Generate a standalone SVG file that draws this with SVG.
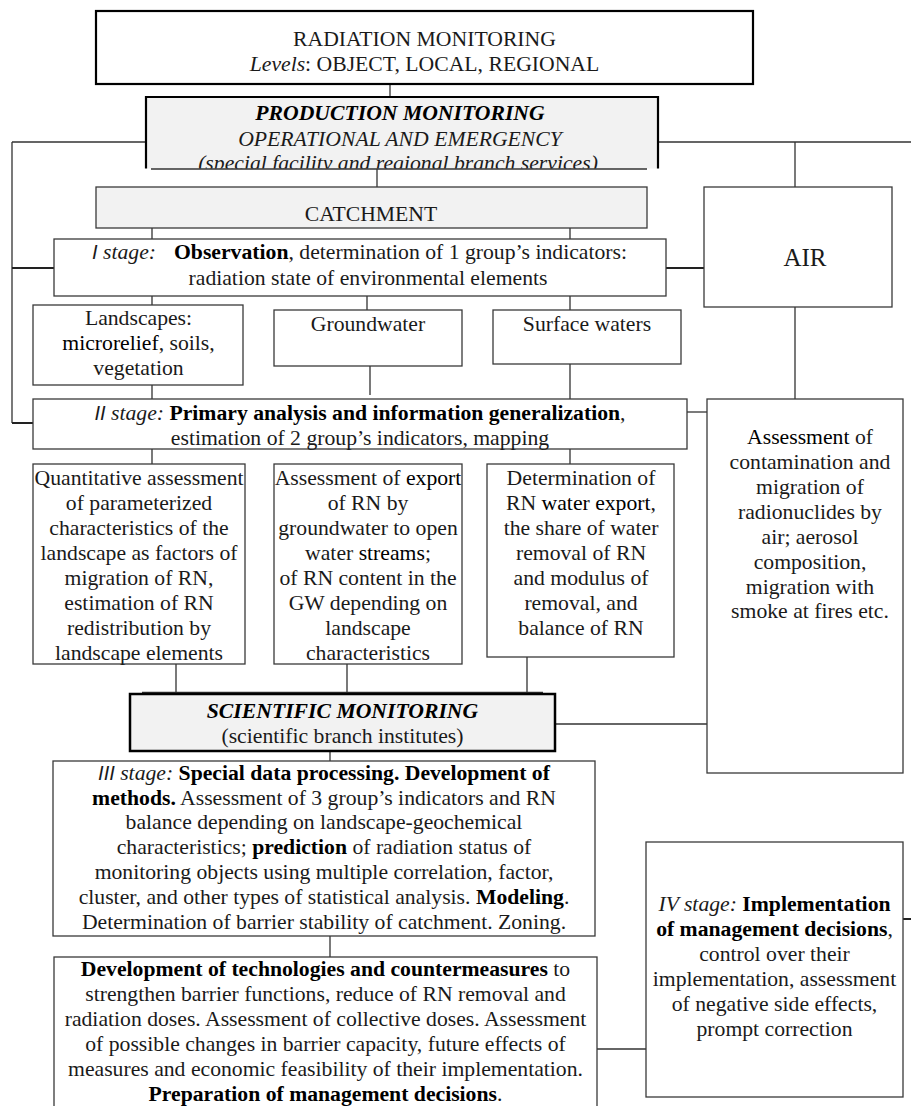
<svg xmlns="http://www.w3.org/2000/svg" width="911" height="1106" viewBox="0 0 911 1106">
<style>
.box{fill:#fff;stroke:#3a3a3a;stroke-width:1.3}
.gbox{fill:#f2f2f2;stroke:#3a3a3a;stroke-width:1.3}
.thick{fill:none;stroke:#000;stroke-width:2.2}
.ln{fill:none;stroke:#333;stroke-width:1.3}
.ln2{fill:none;stroke:#222;stroke-width:2}
.t{font-family:"Liberation Serif","Times New Roman",serif;font-size:21.7px;fill:#1a1a1a;text-anchor:middle}
.s{text-anchor:start}
.b{font-weight:bold;fill:#000}
.i{font-style:italic}
.r{font-family:"Liberation Sans",Arial,sans-serif;font-size:20px}
</style>
<defs>
<clipPath id="prodClip"><rect x="146" y="97" width="512" height="71.5"/></clipPath>
</defs>
<g id="connectors">
<path class="ln" d="M390,84V97"/>
<path class="ln" d="M12,142H146M12,142V423"/>
<path class="ln2" d="M12,268H54M12,423H33"/>
<path class="ln" d="M658,142H911M795,142V187"/>
<path class="ln" d="M377,169V187"/>
<path class="ln" d="M152,228V239M570,228V239"/>
<path class="ln2" d="M666,268H704"/>
<path class="ln" d="M152,296V305M367,296V310M570,296V310"/>
<path class="ln" d="M152,385V399M370,366V395M570,364V399M795,307V399"/>
<path class="ln" d="M687,412H707"/>
<path class="ln" d="M152,449V464M570,449V464"/>
<path class="ln" d="M176,664V693M347,664V693M527,657V693"/>
<path class="ln" d="M142,692.5H543"/>
<path class="ln" d="M555,724H707"/>
<path class="ln" d="M330,751V761"/>
<path class="ln" d="M330,936V957"/>
<path class="ln" d="M597,1049H646"/>
<path class="ln2" d="M903,919H911"/>
</g>
<g id="radiation-monitoring">
<rect x="96" y="11" width="657" height="73" fill="#fff" stroke="#000" stroke-width="2.2"/>
<text class="t" x="424.5" y="46">RADIATION MONITORING</text>
<text class="t" x="424.5" y="71"><tspan class="i">Levels</tspan>: OBJECT, LOCAL, REGIONAL</text>
</g>
<g id="production-monitoring">
<rect x="146" y="97" width="512" height="71.5" fill="#f2f2f2"/>
<path class="thick" d="M146,168.5V97H658V168.5"/>
<path class="ln" d="M151,169H647"/>
<g clip-path="url(#prodClip)">
<text class="t i b" x="400" y="120">PRODUCTION MONITORING</text>
<text class="t i" x="400" y="145.5">OPERATIONAL AND EMERGENCY</text>
<text class="t i" x="398" y="170">(special facility and regional branch services)</text>
</g>
</g>
<g id="catchment">
<rect class="gbox" x="96" y="187" width="551" height="41"/>
<text class="t" x="371" y="221">CATCHMENT</text>
</g>
<g id="stage1">
<rect class="box" x="54" y="239" width="612" height="57"/>
<text class="t s" x="92" y="259"><tspan class="i r">I</tspan><tspan class="i"> stage:</tspan></text>
<text class="t s" x="174" y="259"><tspan class="b">Observation</tspan>, determination of 1 group’s indicators:</text>
<text class="t" x="368" y="285">radiation state of environmental elements</text>
</g>
<g id="air">
<rect class="box" x="704" y="187" width="188" height="120"/>
<text class="t" x="805" y="266" style="font-size:25px">AIR</text>
</g>
<g id="landscapes">
<rect class="box" x="33" y="305" width="210" height="80"/>
<text class="t" x="138.5" y="325">Landscapes:</text>
<text class="t" x="138.5" y="350"><tspan fill="#000">microrelief</tspan>, soils,</text>
<text class="t" x="138.5" y="375">vegetation</text>
</g>
<g id="groundwater">
<rect class="box" x="274" y="310" width="188" height="56"/>
<text class="t" x="368" y="331">Groundwater</text>
</g>
<g id="surface-waters">
<rect class="box" x="493" y="310" width="188" height="54"/>
<text class="t" x="587" y="331">Surface waters</text>
</g>
<g id="stage2">
<rect class="box" x="33" y="399" width="654" height="50"/>
<text class="t" x="360" y="420"><tspan class="i r">II</tspan><tspan class="i"> stage:</tspan> <tspan class="b">Primary analysis and information generalization</tspan>,</text>
<text class="t" x="360" y="445">estimation of 2 group’s indicators, mapping</text>
</g>
<g id="air-assessment">
<rect class="box" x="707" y="399" width="196" height="374"/>
<text class="t" x="810" y="444"><tspan fill="#000">Assessment</tspan> of</text>
<text class="t" x="810" y="469">contamination and</text>
<text class="t" x="810" y="494">migration of</text>
<text class="t" x="810" y="519">radionuclides by</text>
<text class="t" x="810" y="544">air; aerosol</text>
<text class="t" x="810" y="569">composition,</text>
<text class="t" x="810" y="594">migration with</text>
<text class="t" x="810" y="618">smoke at fires etc.</text>
</g>
<g id="quantitative">
<rect class="box" x="33" y="464" width="212" height="200"/>
<text class="t" x="139" y="485">Quantitative assessment</text>
<text class="t" x="139" y="510">of parameterized</text>
<text class="t" x="139" y="535">characteristics of the</text>
<text class="t" x="139" y="560">landscape as factors of</text>
<text class="t" x="139" y="585">migration of RN,</text>
<text class="t" x="139" y="610">estimation of RN</text>
<text class="t" x="139" y="635">redistribution by</text>
<text class="t" x="139" y="660">landscape elements</text>
</g>
<g id="export">
<rect class="box" x="274" y="464" width="188" height="200"/>
<text class="t" x="368" y="485">Assessment of <tspan fill="#000">export</tspan></text>
<text class="t" x="368" y="510">of RN by</text>
<text class="t" x="368" y="535">groundwater to open</text>
<text class="t" x="368" y="560">water <tspan fill="#000">streams</tspan>;</text>
<text class="t" x="368" y="585">of RN content in the</text>
<text class="t" x="368" y="610">GW depending on</text>
<text class="t" x="368" y="635">landscape</text>
<text class="t" x="368" y="660">characteristics</text>
</g>
<g id="determination">
<rect class="box" x="487" y="464" width="187" height="193"/>
<text class="t" x="581" y="485">Determination of</text>
<text class="t" x="581" y="510">RN <tspan fill="#000">water export</tspan>,</text>
<text class="t" x="581" y="535">the share of water</text>
<text class="t" x="581" y="560">removal of RN</text>
<text class="t" x="581" y="585">and modulus of</text>
<text class="t" x="581" y="610">removal, and</text>
<text class="t" x="581" y="635">balance of RN</text>
</g>
<g id="scientific-monitoring">
<rect x="130" y="694" width="425" height="57" fill="#f2f2f2" stroke="#000" stroke-width="2.5"/>
<text class="t i b" x="342.5" y="717.5">SCIENTIFIC MONITORING</text>
<text class="t" x="342.5" y="743">(scientific branch institutes)</text>
</g>
<g id="stage3">
<rect class="box" x="53" y="761" width="542" height="175"/>
<text class="t" x="324" y="780"><tspan class="i r">III</tspan><tspan class="i"> stage:</tspan> <tspan class="b">Special data processing. Development of</tspan></text>
<text class="t" x="324" y="804.5"><tspan class="b">methods.</tspan> Assessment of 3 group’s indicators and RN</text>
<text class="t" x="324" y="829">balance depending on landscape-geochemical</text>
<text class="t" x="324" y="854">characteristics; <tspan class="b">prediction</tspan> of radiation status of</text>
<text class="t" x="324" y="879">monitoring objects using multiple correlation, factor,</text>
<text class="t" x="324" y="904">cluster, and other types of statistical analysis. <tspan class="b">Modeling</tspan>.</text>
<text class="t" x="324" y="929">Determination of barrier stability of catchment. Zoning.</text>
</g>
<g id="development">
<rect class="box" x="54" y="957" width="543" height="160"/>
<text class="t" x="325.5" y="976"><tspan class="b">Development of technologies and countermeasures</tspan> to</text>
<text class="t" x="325.5" y="1001">strengthen barrier functions, reduce of RN removal and</text>
<text class="t" x="325.5" y="1026">radiation doses. Assessment of collective doses. Assessment</text>
<text class="t" x="325.5" y="1051">of possible changes in barrier capacity, future effects of</text>
<text class="t" x="325.5" y="1076">measures and economic feasibility of their implementation.</text>
<text class="t" x="325.5" y="1101"><tspan class="b">Preparation of management decisions</tspan>.</text>
</g>
<g id="stage4">
<rect class="box" x="646" y="842" width="257" height="255"/>
<text class="t" x="774.5" y="911"><tspan class="i">IV stage:</tspan> <tspan class="b">Implementation</tspan></text>
<text class="t" x="774.5" y="936"><tspan class="b">of management decisions</tspan>,</text>
<text class="t" x="774.5" y="961">control over their</text>
<text class="t" x="774.5" y="986">implementation, assessment</text>
<text class="t" x="774.5" y="1011">of negative side effects,</text>
<text class="t" x="774.5" y="1036">prompt correction</text>
</g>
</svg>
